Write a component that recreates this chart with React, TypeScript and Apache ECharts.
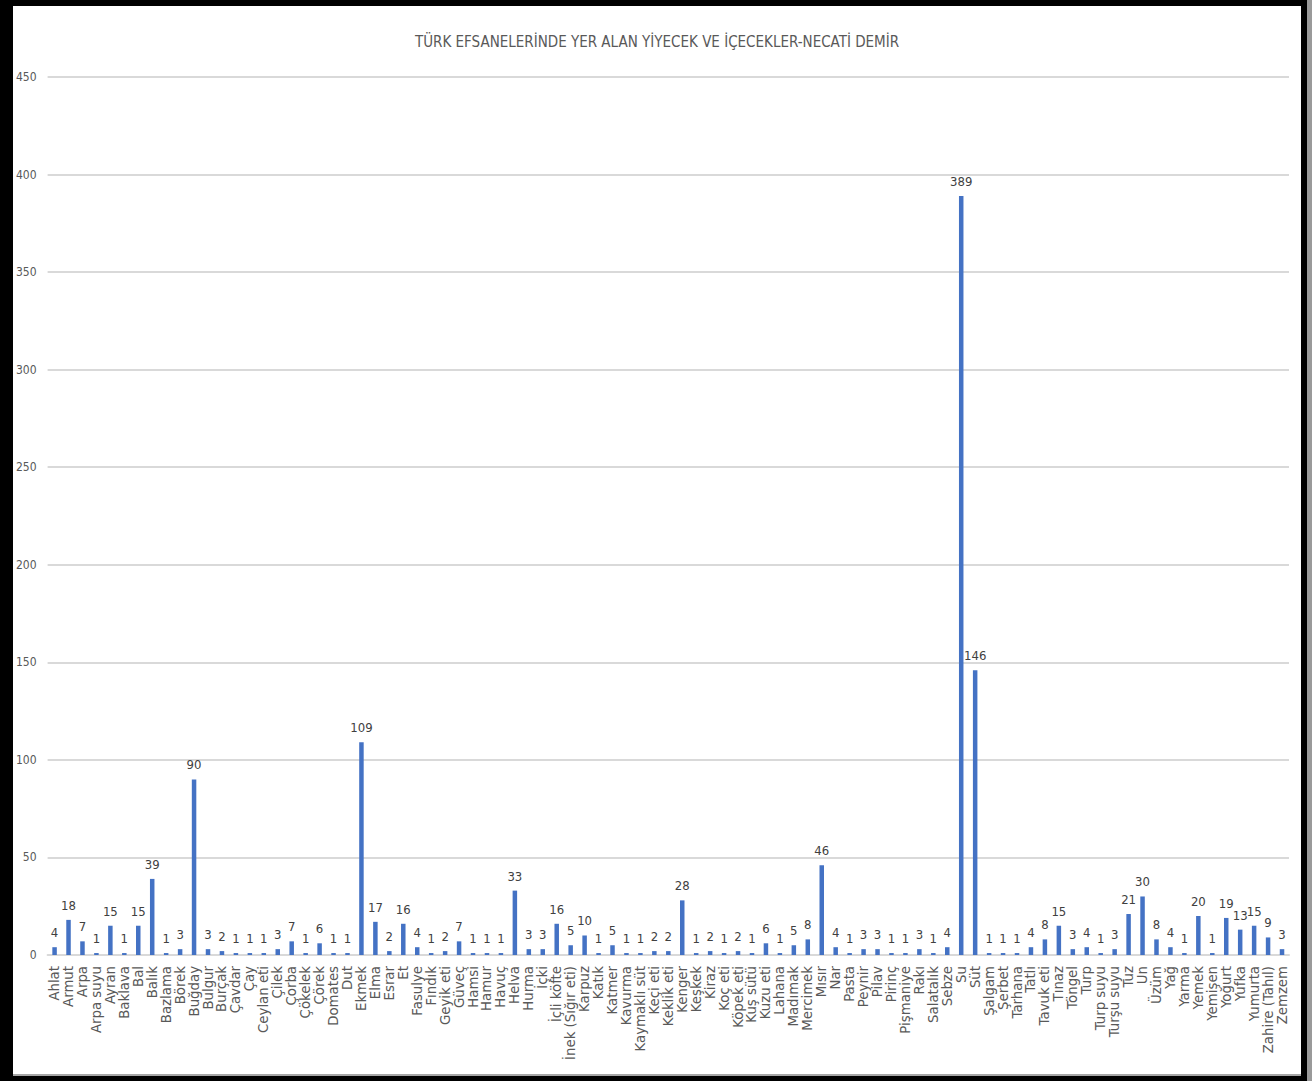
import React, { useEffect, useRef } from "react";
import * as echarts from "echarts";

const categories = [
  "Ahlat", "Armut", "Arpa", "Arpa suyu", "Ayran", "Baklava", "Bal", "Balık", "Bazlama", "Börek",
  "Buğday", "Bulgur", "Burçak", "Çavdar", "Çay", "Ceylan eti", "Çilek", "Çorba", "Çökelek", "Çörek",
  "Domates", "Dut", "Ekmek", "Elma", "Esrar", "Et", "Fasulye", "Fındık", "Geyik eti", "Güveç",
  "Hamsi", "Hamur", "Havuç", "Helva", "Hurma", "İçki", "İçli köfte", "İnek (Sığır eti)", "Karpuz", "Katık",
  "Katmer", "Kavurma", "Kaymaklı süt", "Keçi eti", "Keklik eti", "Kenger", "Keşkek", "Kiraz", "Koç eti", "Köpek eti",
  "Kuş sütü", "Kuzu eti", "Lahana", "Madımak", "Mercimek", "Mısır", "Nar", "Pasta", "Peynir", "Pilav",
  "Pirinç", "Pişmaniye", "Rakı", "Salatalık", "Sebze", "Su", "Süt", "Şalgam", "Şerbet", "Tarhana",
  "Tatlı", "Tavuk eti", "Tınaz", "Töngel", "Turp", "Turp suyu", "Turşu suyu", "Tuz", "Un", "Üzüm",
  "Yağ", "Yarma", "Yemek", "Yemişen", "Yoğurt", "Yufka", "Yumurta", "Zahire (Tahıl)", "Zemzem",
];

const values = [
  4, 18, 7, 1, 15, 1, 15, 39, 1, 3,
  90, 3, 2, 1, 1, 1, 3, 7, 1, 6,
  1, 1, 109, 17, 2, 16, 4, 1, 2, 7,
  1, 1, 1, 33, 3, 3, 16, 5, 10, 1,
  5, 1, 1, 2, 2, 28, 1, 2, 1, 2,
  1, 6, 1, 5, 8, 46, 4, 1, 3, 3,
  1, 1, 3, 1, 4, 389, 146, 1, 1, 1,
  4, 8, 15, 3, 4, 1, 3, 21, 30, 8,
  4, 1, 20, 1, 19, 13, 15, 9, 3,
];

const titleText = "TÜRK EFSANELERİNDE YER ALAN YİYECEK VE İÇECEKLER-NECATİ DEMİR";
const yMin = 0;
const yMax = 450;
const yInterval = 50;

const condensed = "'DejaVu Sans Condensed', 'Liberation Sans', sans-serif";

export default function App() {
  const ref = useRef<HTMLDivElement>(null);

  useEffect(() => {
    if (!ref.current) return;
    const chart = echarts.init(ref.current, null, { renderer: "svg" });
    chart.setOption({
      animation: false,
      backgroundColor: "#ffffff",
      title: {
        text: titleText,
        left: "center",
        top: 23,
        textStyle: {
          fontFamily: condensed,
          fontSize: 15,
          fontWeight: "normal",
          color: "#595959",
        },
      },
      grid: { left: 34, right: 12, top: 71, bottom: 119, containLabel: false },
      xAxis: {
        type: "category",
        data: categories,
        axisLine: { show: true, lineStyle: { color: "#d9d9d9", width: 2 } },
        axisTick: { show: false },
        axisLabel: {
          interval: 0,
          rotate: 90,
          margin: 11,
          fontFamily: "'DejaVu Sans', sans-serif",
          fontSize: 13.3,
          color: "#595959",
        },
      },
      yAxis: {
        type: "value",
        min: yMin,
        max: yMax,
        interval: yInterval,
        axisLine: { show: false },
        axisTick: { show: false },
        splitLine: { lineStyle: { color: "#d9d9d9", width: 2 } },
        axisLabel: {
          margin: 11,
          fontFamily: condensed,
          fontSize: 12,
          color: "#595959",
        },
      },
      series: [
        {
          type: "bar",
          data: values,
          barWidth: 4.5,
          itemStyle: { color: "#4472c4" },
          label: {
            show: true,
            position: "top",
            distance: 8,
            fontFamily: condensed,
            fontSize: 13,
            color: "#404040",
          },
        },
      ],
    });
    return () => chart.dispose();
  }, []);

  return (
    <div style={{ position: "fixed", left: 0, top: 0, width: 1312, height: 1081, background: "#000" }}>
      <div style={{ position: "absolute", left: 1307, top: 0, width: 5, height: 1081, background: "#9a9a9a" }} />
      <div style={{ position: "absolute", left: 13, top: 1074, width: 1288, height: 2, background: "#a6a6a6" }} />
      <div style={{ position: "absolute", left: 13, top: 6, width: 1288, height: 1068, background: "#fff" }}>
        <div ref={ref} style={{ width: 1288, height: 1068 }} />
      </div>
    </div>
  );
}
